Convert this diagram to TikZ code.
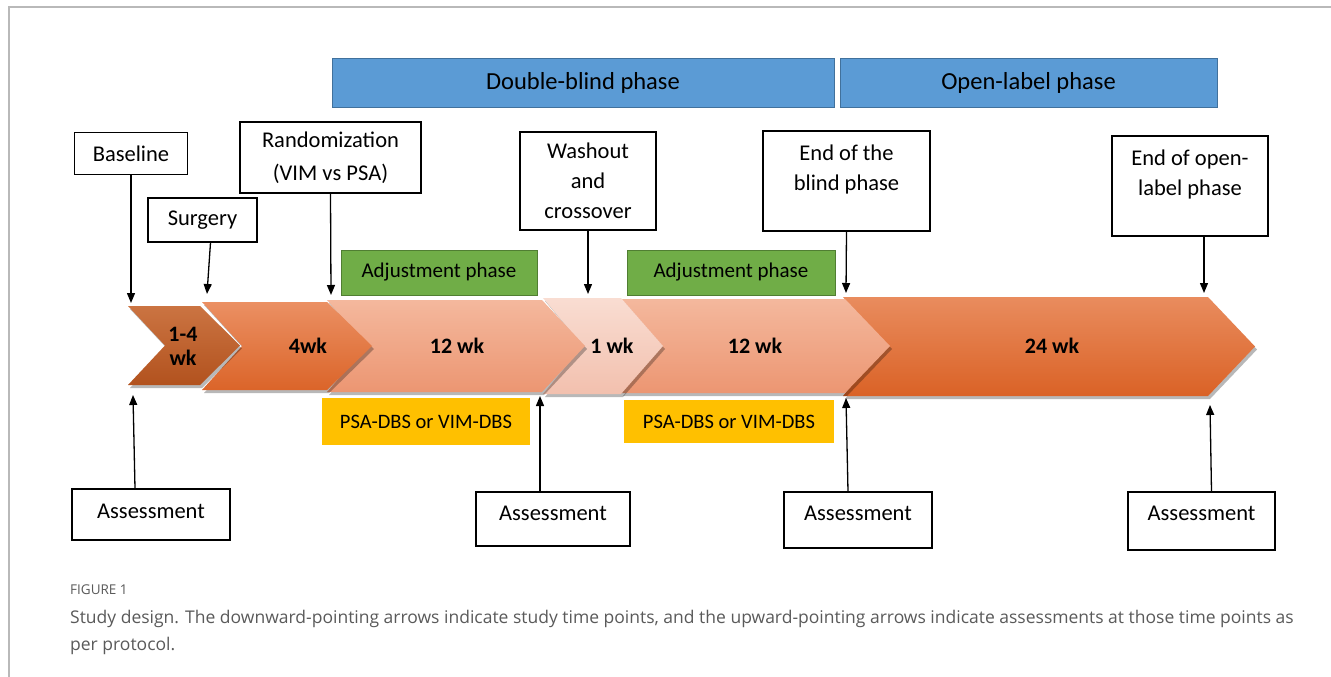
\documentclass[tikz,border=0pt]{standalone}
\usepackage{fontspec}
\setmainfont{Carlito}
\newfontfamily\capfont{Open Sans}
\usetikzlibrary{arrows.meta}

\definecolor{phaseblue}{HTML}{5B9BD5}
\definecolor{phaseedge}{HTML}{41719C}
\definecolor{adjgreen}{HTML}{70AD47}
\definecolor{adjedge}{HTML}{507E32}
\definecolor{dbsyellow}{HTML}{FFC000}
\definecolor{captext}{HTML}{5A5A5A}
\definecolor{brownA}{HTML}{CB7442}
\definecolor{brownB}{HTML}{B2521E}
\definecolor{orangeA}{HTML}{EB9063}
\definecolor{orangeB}{HTML}{DB6429}
\definecolor{salmonA}{HTML}{F4B89D}
\definecolor{salmonB}{HTML}{EC9672}
\definecolor{pinkA}{HTML}{F9DDD2}
\definecolor{pinkB}{HTML}{F2C0AE}
\definecolor{bigA}{HTML}{E98C5E}
\definecolor{bigB}{HTML}{DA6226}

% chevron outline: x-left, x-right (start of tip), y-top, y-bottom, notch depth, tip depth
\newcommand\chevpath[6]{%
  (#1,#3) -- (#2,#3) -- ({#2+#6},{(#3+#4)/2}) -- (#2,#4) -- (#1,#4)
  -- ({#1+#5},{(#3+#4)/2}) -- cycle}

\begin{document}
\begin{tikzpicture}[x=1pt,y=-1pt,
  box/.style={draw=black, line width=1.3pt, fill=white, inner sep=0pt,
    align=center, font=\fontsize{22.5}{30}\selectfont},
  phasebar/.style={draw=phaseedge, line width=0.8pt, fill=phaseblue,
    inner sep=0pt, font=\fontsize{24.5}{28}\selectfont},
  adjbox/.style={draw=adjedge, line width=0.8pt, fill=adjgreen,
    inner sep=0pt, font=\fontsize{21}{24}\selectfont},
  dbsbox/.style={fill=dbsyellow, inner sep=0pt, font=\fontsize{20.5}{24}\selectfont},
  weeks/.style={font=\bfseries\fontsize{22}{22}\selectfont, align=center, inner sep=0pt},
  shadowfill/.style={fill=black, opacity=0.28},
  tick/.style={-{Triangle[length=10pt,width=8pt]}, line width=1.3pt},
]
\useasboundingbox (0,0) rectangle (1331,677);
\fill[white] (0,0) rectangle (1331,677);

% panel frame
\draw[gray!55, line width=1.2pt] (9,677) -- (9,7) -- (1331,7);

% phase bars
\node[phasebar, minimum width=502, minimum height=49] (dblind) at (583,82.5) {Double-blind phase};
\node[phasebar, minimum width=377, minimum height=49] (openl) at (1028.5,82.5) {Open-label phase};

% timeline chevrons, drawn last-to-first so each tip overlaps the next segment
\fill[shadowfill, shift={(2,3)}] \chevpath{843}{1208}{297}{396}{40}{47};
\shade[top color=bigA, bottom color=bigB] \chevpath{843}{1208}{297}{396}{40}{47};
\fill[shadowfill, shift={(2,3)}] \chevpath{621}{845}{299}{393}{40}{45};
\shade[top color=salmonA, bottom color=salmonB] \chevpath{621}{845}{299}{393}{40}{45};
\fill[shadowfill, shift={(2,3)}] \chevpath{543}{621}{298}{394}{40}{42};
\shade[top color=pinkA, bottom color=pinkB] \chevpath{543}{621}{298}{394}{40}{42};
\fill[shadowfill, shift={(2,3)}] \chevpath{327}{542}{300}{392}{40}{43};
\shade[top color=salmonA, bottom color=salmonB] \chevpath{327}{542}{300}{392}{40}{43};
\fill[shadowfill, shift={(2,3)}] \chevpath{202}{327}{302}{390}{40}{45};
\shade[top color=orangeA, bottom color=orangeB] \chevpath{202}{327}{302}{390}{40}{45};
\fill[shadowfill, shift={(2,3)}] \chevpath{128}{200}{306}{385}{37}{40};
\shade[top color=brownA, bottom color=brownB] \chevpath{128}{200}{306}{385}{37}{40};

% segment durations
\node[weeks] (w1) at (183,346) {1-4\\[2pt]wk};
\node[weeks] (w2) at (308,346) {4wk};
\node[weeks] (w3) at (457,346) {12 wk};
\node[weeks] (w4) at (612,346) {1 wk};
\node[weeks] (w5) at (755,346) {12 wk};
\node[weeks] (w6) at (1052,346) {24 wk};

% adjustment and treatment labels
\node[adjbox, minimum width=196, minimum height=45] (adj1) at (439,272.5) {Adjustment phase};
\node[adjbox, minimum width=208, minimum height=45] (adj2) at (731,272.5) {Adjustment phase};
\node[dbsbox, minimum width=208, minimum height=47] (dbs1) at (426,421.5) {PSA-DBS or VIM-DBS};
\node[dbsbox, minimum width=210, minimum height=43] (dbs2) at (729,421.5) {PSA-DBS or VIM-DBS};

% study time points
\node[box, minimum width=113, minimum height=42] (baseline) at (131,153.5) {Baseline};
\node[box, minimum width=109, minimum height=44] (surgery) at (202.5,220) {Surgery};
\node[box, minimum width=181, minimum height=71, font=\fontsize{22.5}{33}\selectfont] (random) at (330.5,157.5) {Randomization\\(VIM vs PSA)};
\node[box, minimum width=136, minimum height=98] (washout) at (588,181) {Washout\\and\\crossover};
\node[box, minimum width=167, minimum height=100] (endblind) at (846.5,181) {};
\node[box, anchor=north, draw=none, fill=none] (endblindtxt) at ([yshift=-14]endblind.north) {End of the\\blind phase};
\node[box, minimum width=156, minimum height=100] (endopen) at (1190,186) {};
\node[box, anchor=north, draw=none, fill=none] (endopentxt) at ([yshift=-14]endopen.north) {End of open-\\label phase};

\coordinate (tBase) at (131,303);
\coordinate (tSurg) at (207,294);
\coordinate (tRand) at (331,295);
\coordinate (tWash) at (588,294);
\coordinate (tEndB) at (846,293);
\coordinate (tEndO) at (1204,293);
\draw[tick] (baseline.south) -- (tBase);
\draw[tick] ([xshift=8]surgery.south) -- (tSurg);
\draw[tick] (random.south) -- (tRand);
\draw[tick] (washout.south) -- (tWash);
\draw[tick] (endblind.south) -- (tEndB);
\draw[tick] ([xshift=14]endopen.south) -- (tEndO);

% assessments
\node[box, minimum width=158, minimum height=51, text depth=7pt] (as1) at (151,514.5) {Assessment};
\node[box, minimum width=154, minimum height=54, text depth=12pt] (as2) at (553,519) {Assessment};
\node[box, minimum width=148, minimum height=56, text depth=14pt] (as3) at (858,520) {Assessment};
\node[box, minimum width=147, minimum height=58, text depth=16pt] (as4) at (1201.5,521) {Assessment};

\coordinate (uA1) at (133,395);
\coordinate (uA2) at (540,396);
\coordinate (uA3) at (846,398);
\coordinate (uA4) at (1210,405);
\draw[tick] ([xshift=-16]as1.north) -- (uA1);
\draw[tick] ([xshift=-13]as2.north) -- (uA2);
\draw[tick] ([xshift=-10]as3.north) -- (uA3);
\draw[tick] ([xshift=10]as4.north) -- (uA4);

% caption
\node[anchor=west, inner sep=0pt, text=captext, font=\capfont\fontsize{13.5}{15}\selectfont] (figlabel) at (70,590) {FIGURE 1};
\node[anchor=north west, inner sep=0pt, align=left, text=captext,
  font=\capfont\fontsize{17.5}{27}\selectfont] (caption) at (70,610)
  {Study design. The downward-pointing arrows indicate study time points, and the upward-pointing arrows indicate assessments at those time points as\\per protocol.};
\end{tikzpicture}
\end{document}
